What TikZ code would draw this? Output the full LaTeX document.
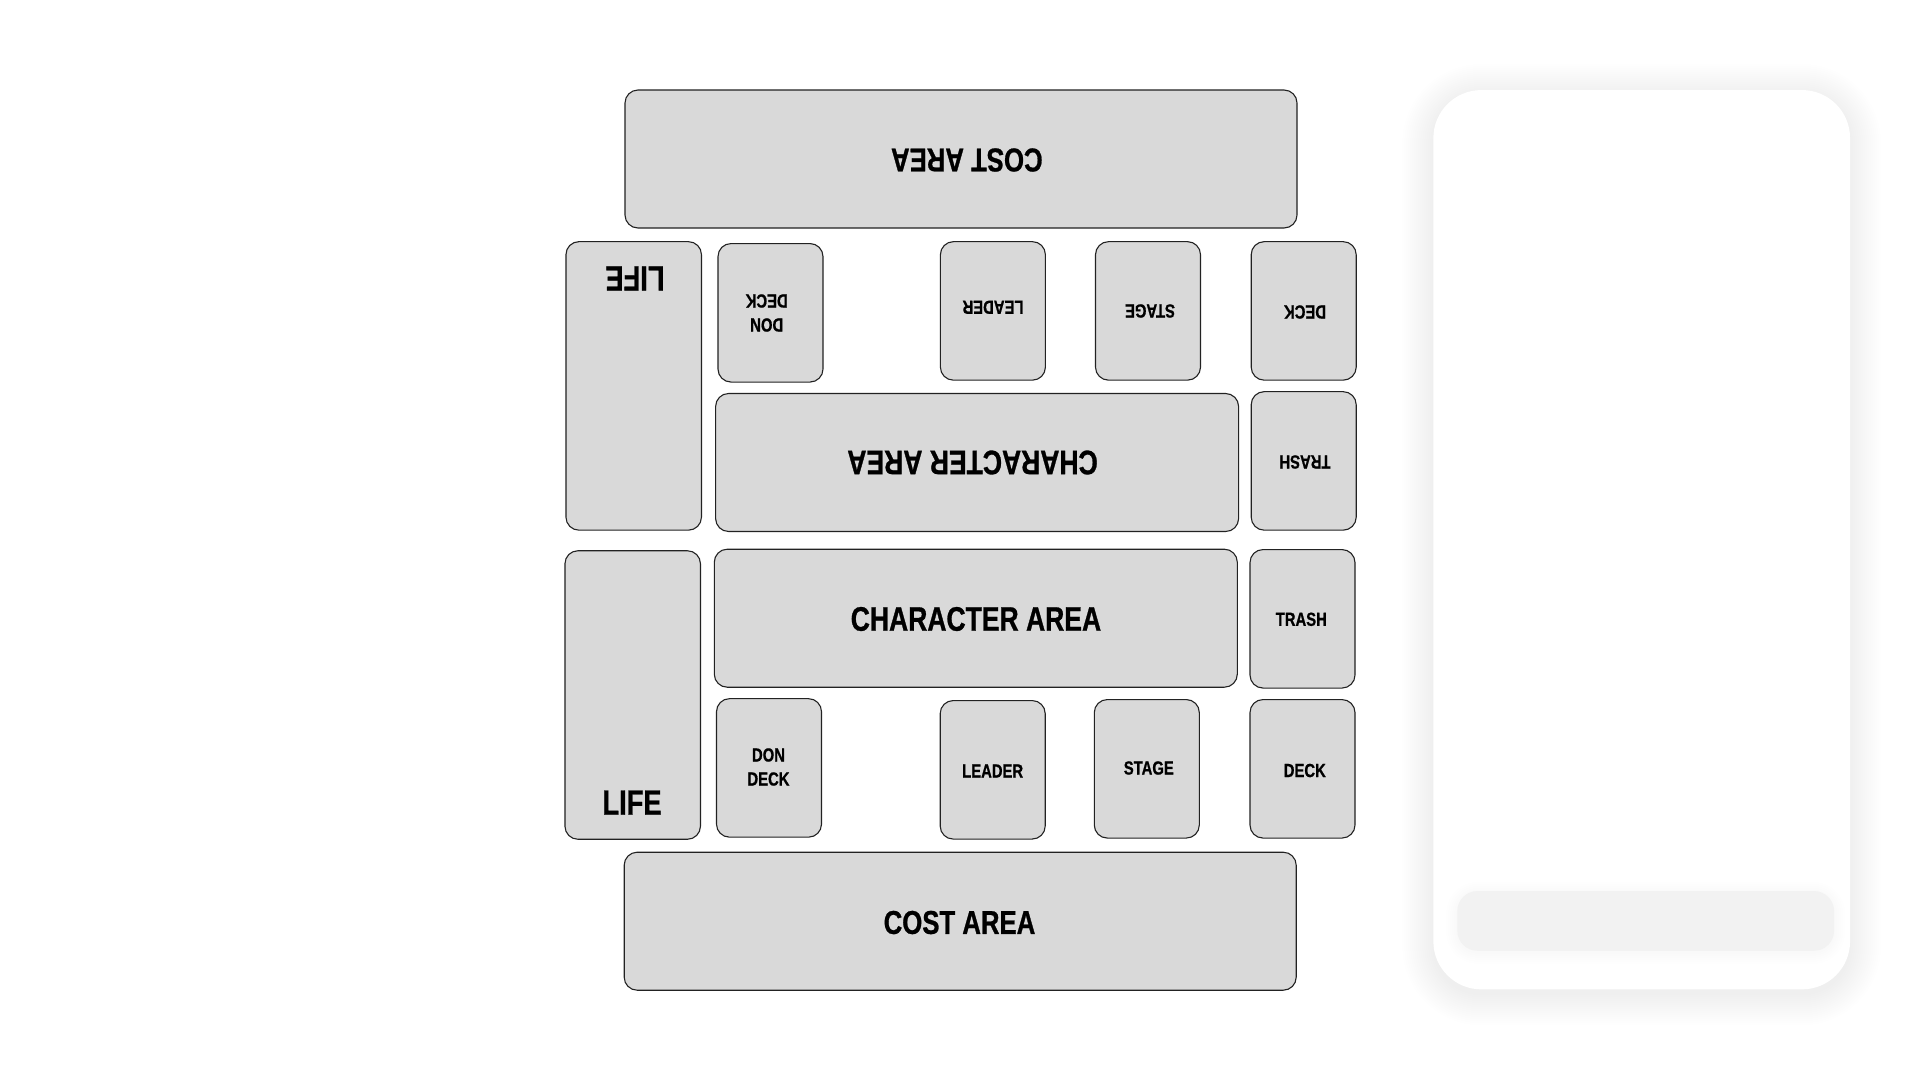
\documentclass[tikz,border=0pt]{standalone}
\usepackage{fontspec}
\setmainfont{Liberation Sans}[FakeStretch=0.78, BoldFeatures={FakeBold=0.8}]
\definecolor{zonefill}{HTML}{D9D9D9}
\definecolor{zoneline}{HTML}{222222}
\definecolor{barfill}{HTML}{F2F2F2}
\tikzset{
  zone/.style={draw=zoneline, fill=zonefill, line width=1.1pt, rounded corners=13pt,
    inner sep=0pt, minimum width=105pt, minimum height=138.5pt},
  widezone/.style={zone, minimum width=523pt, minimum height=138pt},
  costzone/.style={zone, minimum width=672pt, minimum height=138pt},
  lifezone/.style={zone, minimum width=135.5pt, minimum height=288.5pt},
  lbl/.style={font=\bfseries\fontsize{19}{24}\selectfont, inner sep=0pt, align=center},
  biglbl/.style={font=\bfseries\fontsize{34}{40}\selectfont, inner sep=0pt},
  flip/.style={rotate=180},
}
\begin{document}
\begin{tikzpicture}[x=1pt,y=-1pt]
\useasboundingbox (0,0) rectangle (1920,1080);
\fill[white] (0,0) rectangle (1920,1080);
% ---- right panel with soft shadow
\foreach \s in {1,3,...,31}{
  \fill[black, opacity=0.0045, rounded corners={48+\s}] (1433.3-\s,90-\s+5) rectangle (1850+\s,989.3+\s+5);
}
\node[draw=none, fill=white, rounded corners=48pt, minimum width=416.7pt, minimum height=899.3pt, inner sep=0pt] (panel) at (1641.7,539.7) {};
\foreach \s in {1,3,...,11}{
  \fill[black, opacity=0.003, rounded corners={20+\s}] (1457.3-\s,891-\s+2) rectangle (1834+\s,950.7+\s+2);
}
\node[fill=barfill, rounded corners=20pt, minimum width=376.7pt, minimum height=59.7pt, inner sep=0pt] (bar) at (1645.7,920.9) {};
% ---- top half (opponent, upside down)
\node[costzone] (costT) at (961,159) {};
\node[biglbl, flip, font=\bfseries\fontsize{33}{40}\selectfont] (costTt) at (966.8,160) {COST AREA};
\node[lifezone] (lifeT) at (633.7,385.9) {};
\node[biglbl, flip, font=\bfseries\fontsize{35}{40}\selectfont] (lifeTt) at (635,278.5) {LIFE};
\node[zone] (donT) at (770.5,312.8) {};
\node[lbl, flip] (donTt) at (766.7,313) {DON\\DECK};
\node[zone] (leaderT) at (992.9,310.9) {};
\node[lbl, flip] (leaderTt) at (993,307.3) {LEADER};
\node[zone] (stageT) at (1148,310.9) {};
\node[lbl, flip] (stageTt) at (1150,311) {STAGE};
\node[zone] (deckT) at (1303.7,310.9) {};
\node[lbl, flip] (deckTt) at (1305,312) {DECK};
\node[widezone] (charT) at (977.1,462.5) {};
\node[biglbl, flip] (charTt) at (972.5,462.5) {CHARACTER AREA};
\node[zone] (trashT) at (1303.7,460.9) {};
\node[lbl, flip] (trashTt) at (1305,462) {TRASH};
% ---- bottom half (player)
\node[lifezone] (lifeB) at (632.7,695) {};
\node[biglbl, font=\bfseries\fontsize{35}{40}\selectfont] (lifeBt) at (632,802.6) {LIFE};
\node[widezone] (charB) at (975.8,618.2) {};
\node[biglbl] (charBt) at (976,619) {CHARACTER AREA};
\node[zone] (trashB) at (1302.5,618.8) {};
\node[lbl] (trashBt) at (1301.3,619.3) {TRASH};
\node[zone] (donB) at (769,767.9) {};
\node[lbl] (donBt) at (768.5,767) {DON\\DECK};
\node[zone] (leaderB) at (992.7,769.8) {};
\node[lbl] (leaderBt) at (992.7,771) {LEADER};
\node[zone] (stageB) at (1146.8,768.8) {};
\node[lbl] (stageBt) at (1148.8,768) {STAGE};
\node[zone] (deckB) at (1302.5,768.8) {};
\node[lbl] (deckBt) at (1304.8,770.5) {DECK};
\node[costzone] (costB) at (960.2,921.2) {};
\node[biglbl, font=\bfseries\fontsize{33}{40}\selectfont] (costBt) at (959.5,922.5) {COST AREA};
\end{tikzpicture}
\end{document}
